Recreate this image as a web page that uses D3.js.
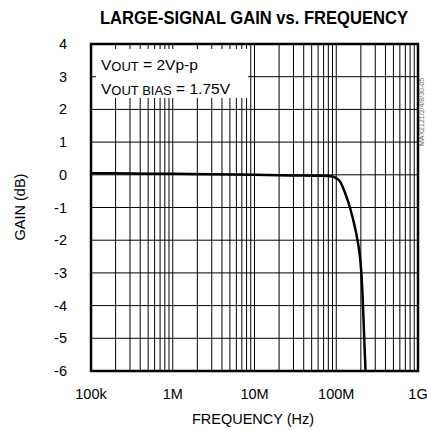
<!DOCTYPE html>
<html>
<head>
<meta charset="utf-8">
<script src="https://cdn.jsdelivr.net/npm/d3@7.9.0/dist/d3.min.js"></script>
<style>
  body { margin: 0; background: #fff; }
  svg text { font-family: "Liberation Sans", Arial, sans-serif; fill: #000; }
</style>
</head>
<body>
<svg id="chart" width="427" height="430"></svg>
<script>
// gain curve
const freqs = [1e5, 3e5, 1e6, 3e6, 1e7, 3e7, 6e7, 8e7, 9.1e7, 9.9e7, 1.11e8, 1.28e8, 1.47e8, 1.69e8, 1.85e8, 1.95e8, 2.04e8, 2.1e8, 2.18e8, 2.28e8];
const gains = [0.05, 0.04, 0.03, 0.02, 0.0, -0.02, -0.03, -0.04, -0.05, -0.1, -0.2, -0.55, -1.0, -1.6, -2.1, -2.5, -3.1, -3.7, -4.75, -6.0];

const yTicks = [4, 3, 2, 1, 0, -1, -2, -3, -4, -5, -6];
const xTicks = [1e5, 1e6, 1e7, 1e8, 1e9];
const xTickLabels = ["100k", "1M", "10M", "100M", "1G"];

const margin = { left: 91, right: 9, top: 44, bottom: 59 };
const width = 427, height = 430;

const svg = d3.select("#chart");

let x = d3.scaleLog().domain([1e5, 1e9]).range([margin.left, width - margin.right]);
let y = d3.scaleLinear().domain([-6, 4]).range([height - margin.bottom, margin.top]);

// vertical grid: 1..9 in each decade
let minor = [];
for (let d = 5; d < 9; d++) {
    for (let m = 2; m <= 9; m++) minor.push(m * Math.pow(10, d));
}

let grid = svg.append("g");
grid.selectAll("line.v")
    .data(minor.concat(xTicks))
    .join("line")
    .attr("x1", d => x(d)).attr("x2", d => x(d))
    .attr("y1", y(4)).attr("y2", y(-6))
    .attr("stroke", "#000").attr("stroke-width", 1);

grid.selectAll("line.h")
    .data(yTicks)
    .join("line")
    .attr("x1", x(1e5)).attr("x2", x(1e9))
    .attr("y1", d => y(d)).attr("y2", d => y(d))
    .attr("stroke", "#000").attr("stroke-width", 1);

// legend box covering the grid
svg.append("rect")
    .attr("x", 96).attr("y", 49)
    .attr("width", 152).attr("height", 49)
    .attr("fill", "#fff");

let leg = svg.append("g").attr("font-size", 15.5);
let t1 = leg.append("text").attr("x", 101).attr("y", 70);
t1.append("tspan").text("V");
t1.append("tspan").attr("font-size", 13).attr("dy", 1).text("OUT");
t1.append("tspan").attr("dy", -1).text(" = 2Vp-p");
let t2 = leg.append("text").attr("x", 101).attr("y", 94);
t2.append("tspan").text("V");
t2.append("tspan").attr("font-size", 13).attr("dy", 1).text("OUT BIAS");
t2.append("tspan").attr("dy", -1).text(" = 1.75V");

// curve
let line = d3.line()
    .x((d, i) => x(freqs[i]))
    .y(d => y(d))
    .curve(d3.curveMonotoneX);

svg.append("path")
    .attr("d", line(gains))
    .attr("fill", "none")
    .attr("stroke", "#000")
    .attr("stroke-width", 2.5);

// frame
svg.append("rect")
    .attr("x", x(1e5)).attr("y", y(4))
    .attr("width", x(1e9) - x(1e5)).attr("height", y(-6) - y(4))
    .attr("fill", "none").attr("stroke", "#000").attr("stroke-width", 2.5);

// axis labels
svg.append("g").selectAll("text")
    .data(yTicks)
    .join("text")
    .attr("x", 67).attr("y", d => y(d) + 5)
    .attr("text-anchor", "end")
    .attr("font-size", 14.5)
    .text(d => d);

svg.append("g").selectAll("text")
    .data(xTicks)
    .join("text")
    .attr("x", d => x(d)).attr("y", 399)
    .attr("text-anchor", "middle")
    .attr("font-size", 14.5)
    .text((d, i) => xTickLabels[i]);

svg.append("text")
    .attr("x", 253).attr("y", 424)
    .attr("text-anchor", "middle")
    .attr("font-size", 14.5)
    .text("FREQUENCY (Hz)");

svg.append("text")
    .attr("transform", "translate(25,207) rotate(-90)")
    .attr("text-anchor", "middle")
    .attr("font-size", 14.5)
    .text("GAIN (dB)");

// condensed bold title
svg.append("text")
    .attr("x", 100).attr("y", 24)
    .attr("font-size", 18)
    .attr("font-weight", "bold")
    .attr("textLength", 308)
    .attr("lengthAdjust", "spacingAndGlyphs")
    .text("LARGE-SIGNAL GAIN vs. FREQUENCY");

svg.append("text")
    .attr("transform", "translate(424,112) rotate(-90)")
    .attr("text-anchor", "middle")
    .attr("font-size", 7)
    .style("fill", "#666")
    .text("MAX2121/2/4/8/30-05");
</script>
</body>
</html>
